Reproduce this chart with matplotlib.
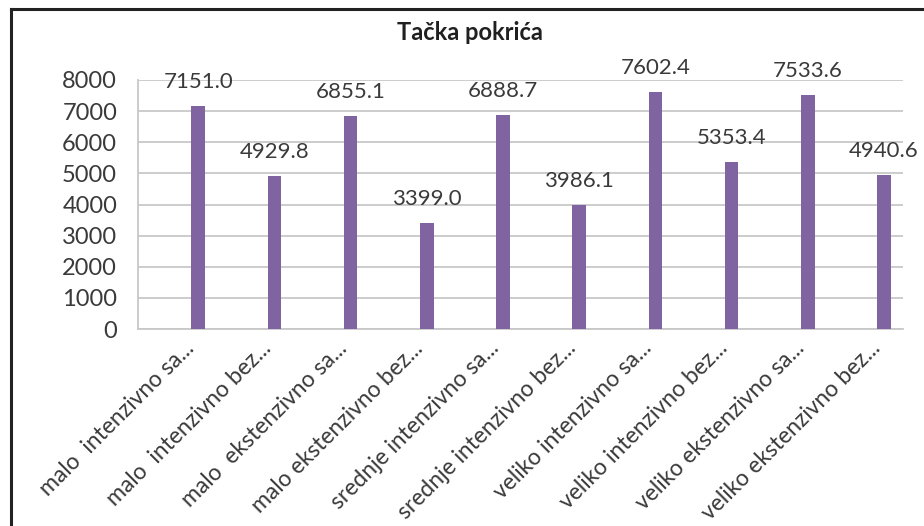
import matplotlib.pyplot as plt
import numpy as np
from matplotlib.lines import Line2D
from matplotlib.transforms import offset_copy

plt.rcParams['font.family'] = ['Lato', 'DejaVu Sans']

categories = ["malo  intenzivno sa...", "malo  intenzivno bez...", "malo  ekstenzivno sa...",
              "malo ekstenzivno bez...", "srednje intenzivno sa...", "srednje intenzivno bez...",
              "veliko intenzivno sa...", "veliko intenzivno bez...", "veliko ekstenzivno sa...",
              "veliko ekstenzivno bez..."]
values = [7151.0, 4929.8, 6855.1, 3399.0, 6888.7, 3986.1, 7602.4, 5353.4, 7533.6, 4940.6]
yticks = [0, 1000, 2000, 3000, 4000, 5000, 6000, 7000, 8000]

bar_color = '#8064A2'
text_color = '#3a3a3a'
W, H = 924, 526

fig = plt.figure(figsize=(W / 100, H / 100), dpi=100)
ax = fig.add_axes([138 / W, 1 - 329 / H, (903 - 138) / W, (329 - 80) / H])

x = np.arange(len(categories))
ax.bar(x, values, width=0.18, color=bar_color, zorder=3)
for xi, v in zip(x, values):
    ax.annotate(f"{v:.1f}", (xi, v), xytext=(0, 24), textcoords='offset pixels',
                ha='center', va='center', fontsize=16, color=text_color, zorder=4)

ax.set_xlim(-0.79, 9.25)
ax.set_ylim(0, 8000)
ax.set_yticks(yticks)
ax.set_yticklabels([str(t) for t in yticks], fontsize=17, color=text_color)
ax.yaxis.grid(True, color='#c8c8c8', linewidth=1.3, zorder=0)

# slanted category labels, placed by hand so they sit just left of each bar
ax.set_xticks(x)
ax.set_xticklabels([])
lbl_trans = offset_copy(ax.get_xaxis_transform(), fig=fig, x=-7, y=-16, units='dots')
for xi, name in zip(x, categories):
    ax.text(xi, 0, name, transform=lbl_trans, rotation=45, ha='right', va='center',
            rotation_mode='anchor', fontsize=16.5, color=text_color, clip_on=False)

ax.tick_params(axis='both', length=0)
ax.tick_params(axis='y', pad=15)
for side in ['top', 'right']:
    ax.spines[side].set_visible(False)
for side in ['left', 'bottom']:
    ax.spines[side].set_color('#c8c8c8')
    ax.spines[side].set_linewidth(1.3)

fig.text(470 / W, 1 - 33 / H, "Tačka pokrića", ha='center', va='center',
         fontsize=17, fontweight='bold', color='#202020')

# chart frame: top and left edges
fig.add_artist(Line2D([11 / W, 1], [1 - 9 / H, 1 - 9 / H], transform=fig.transFigure,
                      color='#222222', linewidth=2.2))
fig.add_artist(Line2D([11 / W, 11 / W], [0, 1 - 9 / H], transform=fig.transFigure,
                      color='#222222', linewidth=2.2))

fig.savefig('out.png', dpi=100)
